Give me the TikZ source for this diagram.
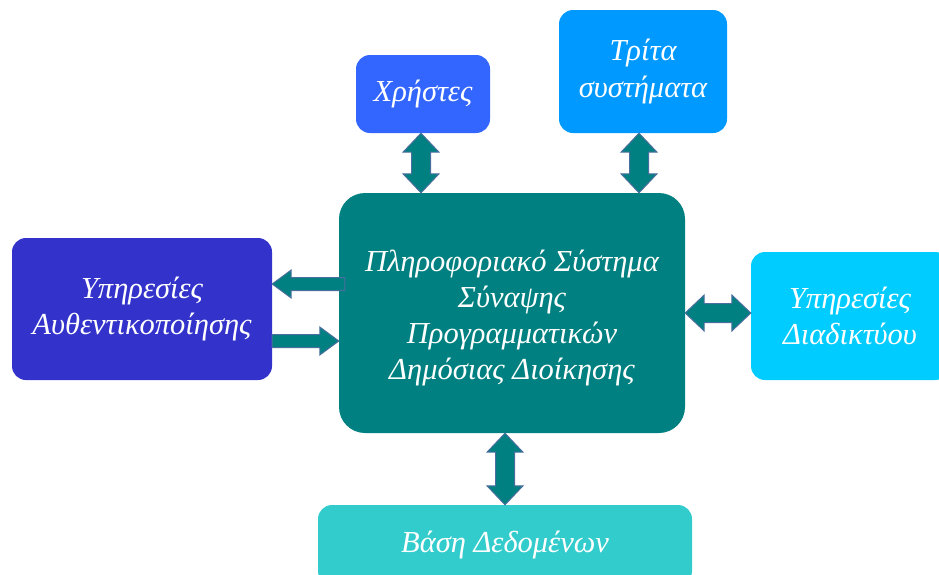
\documentclass[tikz,border=0pt]{standalone}
\usepackage{fontspec}
\setmainfont{Liberation Serif}
\usetikzlibrary{calc}
\definecolor{cusers}{HTML}{3366FF}
\definecolor{cthird}{HTML}{0099FF}
\definecolor{cauth}{HTML}{3333CC}
\definecolor{ccenter}{HTML}{008080}
\definecolor{cweb}{HTML}{00CCFF}
\definecolor{cdb}{HTML}{33CCCC}
\definecolor{cedge}{HTML}{4A6E9E}
\tikzset{
  box/.style={rounded corners=14pt, inner sep=0pt, align=center, text=white,
    font=\fontsize{30.5}{36.5}\selectfont\itshape},
  fatarrow/.style={fill=ccenter, draw=cedge, line width=1pt, line join=miter},
}
% double arrow from #1 to #2
\newcommand\dblfat[2]{%
  \draw[fatarrow] (#1)
   -- ($($(#1)!19pt!(#2)$)!18pt!-90:(#2)$)
   -- ($($(#1)!19pt!(#2)$)!9.5pt!-90:(#2)$)
   -- ($($(#2)!19pt!(#1)$)!9.5pt!90:(#1)$)
   -- ($($(#2)!19pt!(#1)$)!18pt!90:(#1)$)
   -- (#2)
   -- ($($(#2)!19pt!(#1)$)!18pt!-90:(#1)$)
   -- ($($(#2)!19pt!(#1)$)!9.5pt!-90:(#1)$)
   -- ($($(#1)!19pt!(#2)$)!9.5pt!90:(#2)$)
   -- ($($(#1)!19pt!(#2)$)!18pt!90:(#2)$)
   -- cycle;}
% single arrow from #1 (tail) to #2 (tip)
\newcommand\onefat[2]{%
  \draw[fatarrow] ($(#1)!6.5pt!-90:(#2)$)
   -- ($($(#2)!19pt!(#1)$)!6.5pt!90:(#1)$)
   -- ($($(#2)!19pt!(#1)$)!14pt!90:(#1)$)
   -- (#2)
   -- ($($(#2)!19pt!(#1)$)!14pt!-90:(#1)$)
   -- ($($(#2)!19pt!(#1)$)!6.5pt!-90:(#1)$)
   -- ($(#1)!6.5pt!90:(#2)$)
   -- cycle;}
\begin{document}
\begin{tikzpicture}[x=1pt,y=-1pt]
\useasboundingbox (0,0) rectangle (939,574);
\clip (0,0) rectangle (939,574);
\node[box, fill=cusers, minimum width=134pt, minimum height=78pt] (users) at (423,94) {Χρήστες};
\node[box, fill=cthird, minimum width=168pt, minimum height=123pt] (third) at (643,71.5) {Τρίτα\\συστήματα};
\node[box, fill=cauth, minimum width=260pt, minimum height=142pt] (auth) at (142,309) {Υπηρεσίες\\Αυθεντικοποίησης};
\node[box, rounded corners=26pt, fill=ccenter, minimum width=346pt, minimum height=240pt] (center) at (512,313) {};
\node[align=center, text=white, font=\fontsize{30.5}{36}\selectfont\itshape, inner sep=0pt] (centertext) at (512,318) {Πληροφοριακό Σύστημα\\Σύναψης\\Προγραμματικών\\Δημόσιας Διοίκησης};
\node[box, fill=cweb, minimum width=198pt, minimum height=128pt] (web) at (850,316) {Υπηρεσίες\\Διαδικτύου};
\node[box, fill=cdb, minimum width=374pt, minimum height=80pt] (db) at (505,545) {Βάση Δεδομένων};
% connectors
\coordinate (uA) at (users.south -| 421,0);
\coordinate (uB) at (center.north -| 421,0);
\dblfat{uA}{uB}
\coordinate (tA) at (third.south -| 639,0);
\coordinate (tB) at (center.north -| 639,0);
\dblfat{tA}{tB}
\coordinate (wA) at (center.east |- 0,313);
\coordinate (wB) at (web.west |- 0,313);
\dblfat{wA}{wB}
\coordinate (dA) at (center.south -| 505,0);
\coordinate (dB) at (db.north -| 505,0);
\dblfat{dA}{dB}
\coordinate (l1A) at ($(center.west |- 0,284)+(6,0)$);
\coordinate (l1B) at (auth.east |- 0,284);
\onefat{l1A}{l1B}
\coordinate (l2A) at (auth.east |- 0,341);
\coordinate (l2B) at (center.west |- 0,341);
\onefat{l2A}{l2B}
\end{tikzpicture}
\end{document}
